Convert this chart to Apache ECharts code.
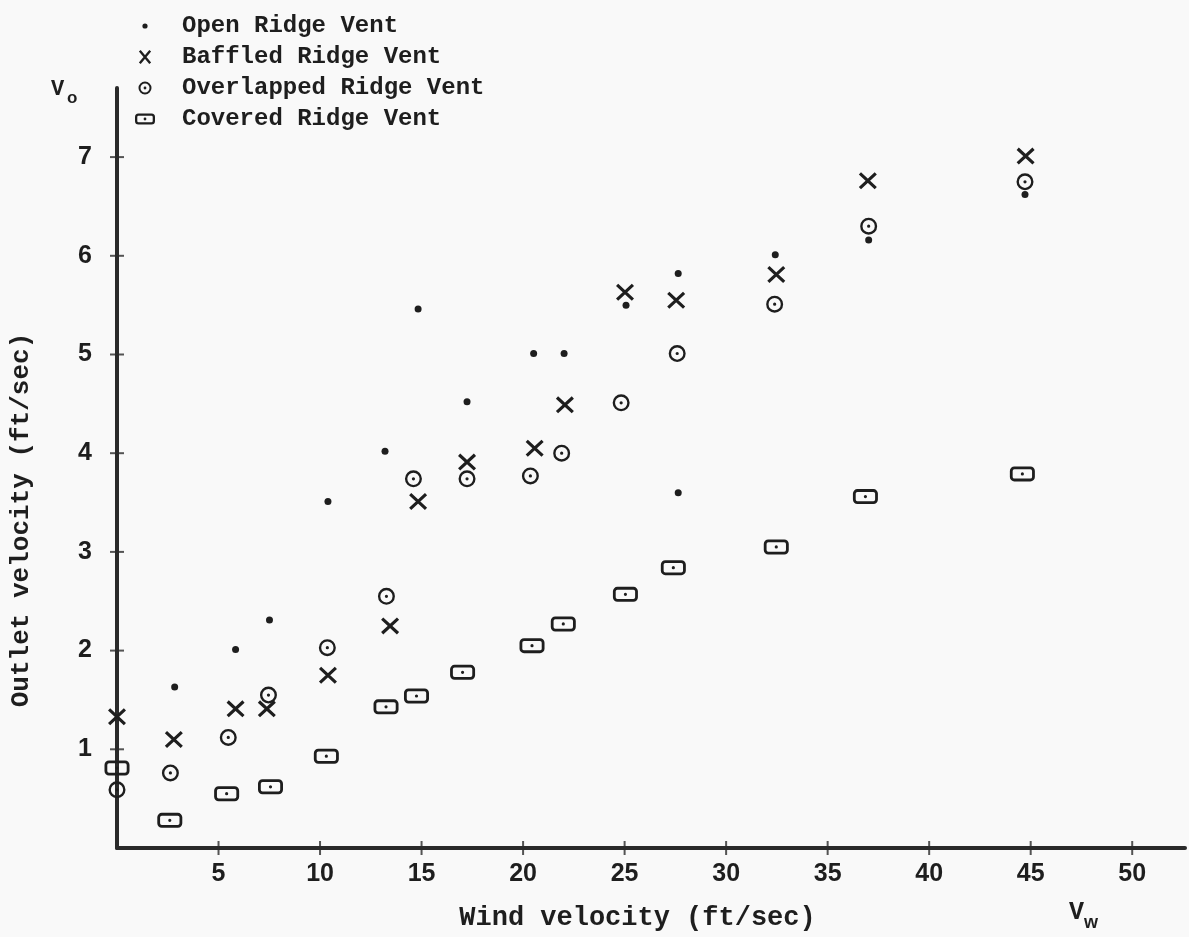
<!DOCTYPE html>
<html><head><meta charset="utf-8">
<script src="https://cdn.jsdelivr.net/npm/echarts@6/dist/echarts.min.js"></script>
<style>html,body{margin:0;padding:0;background:#f9f9f9}#c{width:1189px;height:937px}</style>
</head><body><div id="c"></div>
<script>
// ---------------- data ----------------
const seriesNames = ['Open Ridge Vent', 'Baffled Ridge Vent', 'Overlapped Ridge Vent', 'Covered Ridge Vent'];
const openRidge = [[2.84,1.63],[5.84,2.01],[7.51,2.31],[10.39,3.51],[13.20,4.02],[14.83,5.46],[17.24,4.52],[20.52,5.01],[22.02,5.01],[25.07,5.50],[27.64,5.82],[27.64,3.60],[32.42,6.01],[37.02,6.16],[44.72,6.62]];
const baffledRidge = [[0,1.33],[2.80,1.10],[5.84,1.41],[7.38,1.41],[10.39,1.75],[13.45,2.25],[14.83,3.51],[17.24,3.91],[20.57,4.05],[22.06,4.49],[25.02,5.63],[27.54,5.55],[32.47,5.81],[36.98,6.76],[44.75,7.01]];
const overlappedRidge = [[0,0.59],[2.63,0.76],[5.48,1.12],[7.46,1.55],[10.36,2.03],[13.27,2.55],[14.60,3.74],[17.24,3.74],[20.36,3.77],[21.90,4.00],[24.83,4.51],[27.59,5.01],[32.39,5.51],[37.02,6.30],[44.72,6.75]];
const coveredRidge = [[0,0.81],[2.60,0.28],[5.40,0.55],[7.56,0.62],[10.31,0.93],[13.25,1.43],[14.75,1.54],[17.02,1.78],[20.44,2.05],[21.98,2.27],[25.04,2.57],[27.40,2.84],[32.47,3.05],[36.86,3.56],[44.59,3.79]];
const xTickValues = [5,10,15,20,25,30,35,40,45,50];
const yTickValues = [1,2,3,4,5,6,7];
const xAxisTitle = 'Wind velocity (ft/sec)';
const yAxisTitle = 'Outlet velocity (ft/sec)';

// ---------------- symbol paths ----------------
function circ(cx, cy, r, cw) {
  const s = cw ? 1 : 0;
  return `M${cx - r} ${cy} A${r} ${r} 0 1 ${s} ${cx + r} ${cy} A${r} ${r} 0 1 ${s} ${cx - r} ${cy} Z `;
}
function rrect(x0, y0, x1, y1, r, cw) {
  if (cw) return `M${x0+r} ${y0} L${x1-r} ${y0} A${r} ${r} 0 0 1 ${x1} ${y0+r} L${x1} ${y1-r} A${r} ${r} 0 0 1 ${x1-r} ${y1} L${x0+r} ${y1} A${r} ${r} 0 0 1 ${x0} ${y1-r} L${x0} ${y0+r} A${r} ${r} 0 0 1 ${x0+r} ${y0} Z `;
  return `M${x0+r} ${y0} A${r} ${r} 0 0 0 ${x0} ${y0+r} L${x0} ${y1-r} A${r} ${r} 0 0 0 ${x0+r} ${y1} L${x1-r} ${y1} A${r} ${r} 0 0 0 ${x1} ${y1-r} L${x1} ${y0+r} A${r} ${r} 0 0 0 ${x1-r} ${y0} Z `;
}
function thick(ax, ay, bx, by, t) {
  const dx = bx - ax, dy = by - ay, L = Math.hypot(dx, dy);
  const nx = -dy / L * t / 2, ny = dx / L * t / 2;
  return `M${ax+nx} ${ay+ny} L${bx+nx} ${by+ny} L${bx-nx} ${by-ny} L${ax-nx} ${ay-ny} Z `;
}
function xShape(x0, y0, x1, y1, t) {
  return thick(x0, y0, x1, y1, t) + thick(x1, y0, x0, y1, t);
}
const BOX = 'M0 0 M24 18 ';
const symX = 'path://' + xShape(1.5, 1.5, 16.5, 15.5, 3);
const symO = 'path://' + circ(10, 10, 10, false) + circ(10, 10, 7.2, true) + circ(10, 10, 1.9, false);
const symSq = 'path://' + rrect(0, 0, 25, 15, 4.5, true) + rrect(2.8, 2.8, 22.2, 12.2, 1.7, false) + circ(12.5, 7.5, 1.6, true);
const legDot = 'path://' + BOX + circ(12, 9, 2.6, true);
const legX = 'path://' + BOX + xShape(6.8, 2.8, 17.2, 15.2, 2.4);
const legO = 'path://' + BOX + circ(12, 9, 6.5, false) + circ(12, 9, 4.5, true) + circ(12, 9, 1.4, false);
const legSq = 'path://' + BOX + rrect(2, 3.5, 22, 14.5, 3.5, true) + rrect(4.3, 5.8, 19.7, 12.2, 1.2, false) + circ(12, 9, 1.4, true);

const INK = '#1e1e1e';
const MONO = '"Liberation Mono", "DejaVu Sans Mono", monospace';
const SANS = '"Liberation Sans", "DejaVu Sans", sans-serif';

const chart = echarts.init(document.getElementById('c'));
chart.setOption({
  backgroundColor: '#f9f9f9',
  animation: false,
  grid: { left: 106, right: 4, top: 88, bottom: 79, containLabel: false },
  legend: {
    orient: 'vertical', left: 128, top: 9,
    itemWidth: 64, itemHeight: 18, itemGap: 7,
    selectedMode: false,
    textStyle: { fontFamily: MONO, fontWeight: 'bold', fontSize: 24, color: INK, lineHeight: 24 },
    data: [
      { name: seriesNames[0], icon: legDot },
      { name: seriesNames[1], icon: legX },
      { name: seriesNames[2], icon: legO },
      { name: seriesNames[3], icon: legSq }
    ]
  },
  xAxis: {
    type: 'value', min: 0, max: 52.6, interval: 5,
    splitLine: { show: false },
    axisTick: { show: false },
    axisLine: { lineStyle: { color: '#2a2a2a', width: 4 } },
    axisLabel: {
      margin: 14, fontFamily: SANS, fontWeight: 'bold', fontSize: 25, color: INK,
      formatter: v => xTickValues.includes(v) ? String(v) : ''
    },
    name: xAxisTitle, nameLocation: 'middle', nameGap: 57,
    nameTextStyle: { fontFamily: MONO, fontWeight: 'bold', fontSize: 27, color: INK, padding: [0, 27, 0, 0] }
  },
  yAxis: {
    type: 'value', min: 0, max: 7.7, interval: 1,
    splitLine: { show: false },
    axisTick: { show: false },
    axisLine: { lineStyle: { color: '#2a2a2a', width: 4 } },
    axisLabel: {
      margin: 25, fontFamily: SANS, fontWeight: 'bold', fontSize: 25, color: INK,
      formatter: v => yTickValues.includes(v) ? String(v) : ''
    },
    name: yAxisTitle, nameLocation: 'middle', nameGap: 83,
    nameTextStyle: { fontFamily: MONO, fontWeight: 'bold', fontSize: 26, color: INK, padding: [0, 104, 0, 0] }
  },
  graphic: [
    { type: 'text', left: 51, top: 78, style: { text: 'V', font: 'bold 22px ' + MONO, fill: INK } },
    { type: 'text', left: 67, top: 90, style: { text: 'o', font: 'bold 17px ' + SANS, fill: INK } },
    { type: 'text', left: 1069, top: 900, style: { text: 'V', font: 'bold 25px ' + MONO, fill: INK } },
    { type: 'text', left: 1084, top: 914, style: { text: 'w', font: 'bold 18px ' + SANS, fill: INK } }
  ],
  series: [
    { name: seriesNames[0], type: 'scatter', data: openRidge, symbol: 'circle', symbolSize: 7,
      itemStyle: { color: INK, opacity: 1 }, clip: false, z: 5 },
    { name: seriesNames[1], type: 'scatter', data: baffledRidge, symbol: symX, symbolSize: [18, 17],
      itemStyle: { color: INK, opacity: 1 }, clip: false, z: 5 },
    { name: seriesNames[2], type: 'scatter', data: overlappedRidge, symbol: symO, symbolSize: 17,
      itemStyle: { color: INK, opacity: 1 }, clip: false, z: 5 },
    { name: seriesNames[3], type: 'scatter', data: coveredRidge, symbol: symSq, symbolSize: [25, 15],
      itemStyle: { color: INK, opacity: 1 }, clip: false, z: 5 },
    { name: 'xticks', type: 'scatter', silent: true, clip: false, z: 4,
      data: xTickValues.map(v => [v, 0]), symbol: 'rect', symbolSize: [2, 14], itemStyle: { color: '#2a2a2a' } },
    { name: 'yticks', type: 'scatter', silent: true, clip: false, z: 4,
      data: yTickValues.map(v => [0, v]), symbol: 'rect', symbolSize: [14, 2], itemStyle: { color: '#2a2a2a' } }
  ]
});
</script>
</body></html>
